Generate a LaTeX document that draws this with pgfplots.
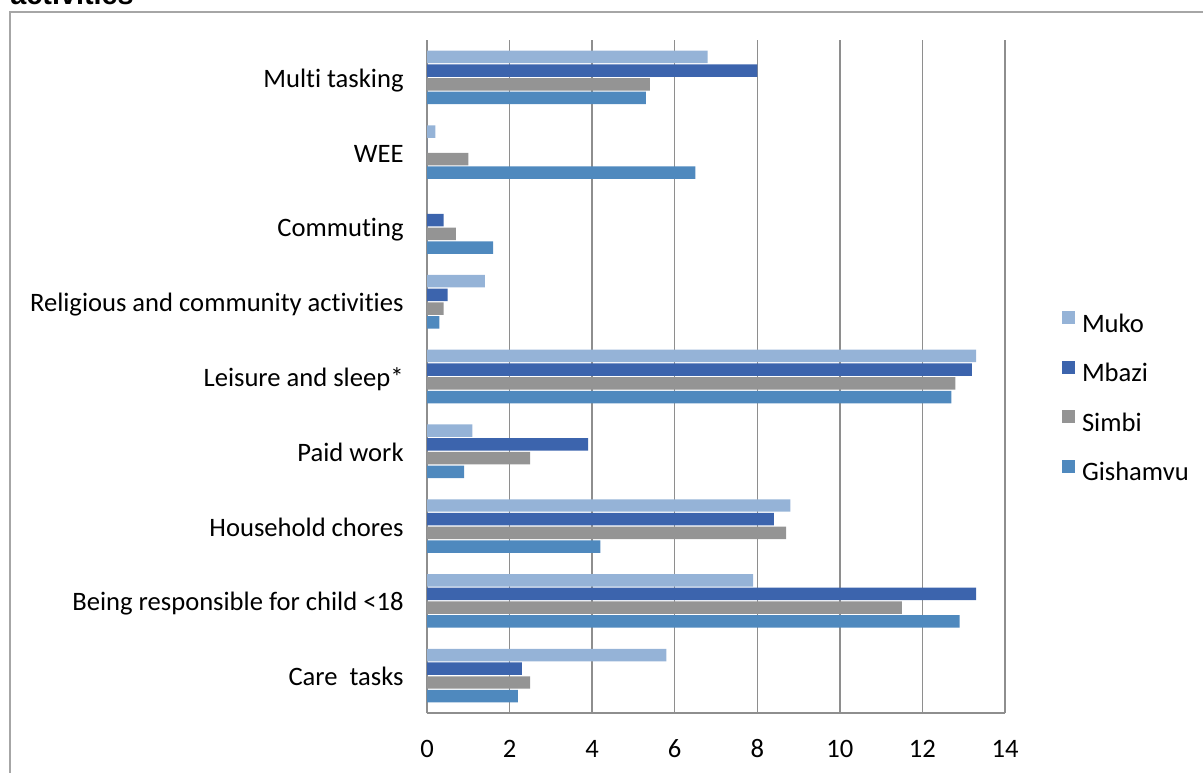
\documentclass[border=0pt]{standalone}
\usepackage{fontspec}
\setmainfont{Carlito}[Ligatures=CommonOff]
\newfontfamily\headfont{Liberation Sans}
\usepackage{pgfplots}
\pgfplotsset{compat=1.18}
\usepackage{pgfplotstable}

\definecolor{cMuko}{HTML}{95B3D7}
\definecolor{cMbazi}{HTML}{3C64AD}
\definecolor{cSimbi}{HTML}{949494}
\definecolor{cGisha}{HTML}{4F89BE}
\definecolor{gridgray}{HTML}{8E8E8E}
\definecolor{framegray}{HTML}{A6A6A6}

% hours per day by activity (row 0 = Care tasks ... row 8 = Multi tasking)
\pgfplotstableread{
y  v
0  5.8
1  7.9
2  8.8
3  1.1
4  13.3
5  1.4
6  0
7  0.2
8  6.8
}\muko
\pgfplotstableread{
y  v
0  2.3
1  13.3
2  8.4
3  3.9
4  13.2
5  0.5
6  0.4
7  0
8  8.0
}\mbazi
\pgfplotstableread{
y  v
0  2.5
1  11.5
2  8.7
3  2.5
4  12.8
5  0.4
6  0.7
7  1.0
8  5.4
}\simbi
\pgfplotstableread{
y  v
0  2.2
1  12.9
2  4.2
3  0.9
4  12.7
5  0.3
6  1.6
7  6.5
8  5.3
}\gishamvu

\begin{document}
\begin{tikzpicture}
\begin{axis}[
  at={(213.5pt,29.5pt)}, anchor=south west,
  scale only axis, width=289pt, height=336.5pt,
  xbar, bar width=0.167,
  xmin=0, xmax=14, xtick={0,2,...,14},
  ymin=-0.5, ymax=8.5, ytick={0,...,8},
  yticklabels={Care\ \ tasks, Being responsible for child <18, Household chores,
    Paid work, Leisure and sleep*, Religious and community activities,
    Commuting, WEE, Multi tasking},
  axis x line*=bottom, axis y line*=left,
  x axis line style={-, draw=gridgray, line width=0.65pt},
  y axis line style={-, draw=gridgray, line width=0.65pt},
  xmajorgrids, grid style={draw=gridgray, line width=0.65pt},
  major tick length=0pt,
  /pgf/number format/assume math mode=true,
  tick label style={font=\fontsize{13.3}{15}\selectfont, inner sep=0pt},
  xticklabel style={anchor=base, yshift=-22pt},
  yticklabel style={anchor=base east, xshift=-11.5pt, yshift=-5pt},
  legend cell align=left,
  legend image code/.code={\fill[#1,draw=none] (0pt,1pt) rectangle (6.5pt,7.5pt);},
  legend style={draw=none, fill=none, at={(1.0986,0.4666)}, anchor=west,
    inner sep=0pt, outer sep=0pt, row sep=11.3pt,
    font=\fontsize{13.3}{15}\selectfont,
    nodes={inner sep=0pt, text height=9pt, text depth=3pt},
    /tikz/every odd column/.append style={column sep=3.5pt}},
]
\addplot[fill=cMuko, draw=none, bar shift=0.275] table[x=v, y=y] {\muko};
\addlegendentry{Muko}
\addplot[fill=cMbazi, draw=none, bar shift=0.092] table[x=v, y=y] {\mbazi};
\addlegendentry{Mbazi}
\addplot[fill=cSimbi, draw=none, bar shift=-0.092] table[x=v, y=y] {\simbi};
\addlegendentry{Simbi}
\addplot[fill=cGisha, draw=none, bar shift=-0.275] table[x=v, y=y] {\gishamvu};
\addlegendentry{Gishamvu}
\end{axis}
% chart frame and heading
\draw[framegray, line width=0.65pt] (5pt,-2pt) -- (5pt,380pt) -- (605pt,380pt);
\node[anchor=base west, inner sep=0pt, font=\headfont\bfseries\fontsize{14.4}{16}\selectfont]
  at (5pt,383.5pt) {activities};
\pgfresetboundingbox
\useasboundingbox (0,0) rectangle (601.5pt,386pt);
\end{tikzpicture}
\end{document}
